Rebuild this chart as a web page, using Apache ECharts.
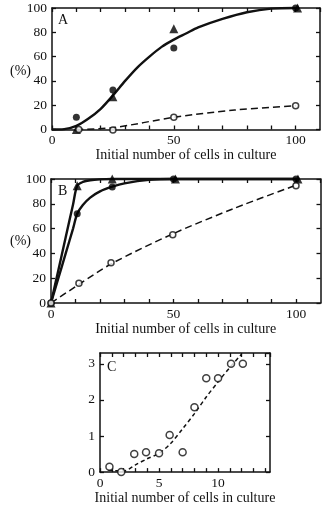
<!DOCTYPE html>
<html><head><meta charset="utf-8">
<script src="https://cdn.jsdelivr.net/npm/echarts@6/dist/echarts.min.js"></script>
<style>html,body{margin:0;padding:0;background:#fff}#c{width:331px;height:506px}</style>
</head><body><div id="c"></div>
<script>
// ---- Panel A data ----
const aFilledCircles = [[10,10],[25,32.5],[50,67],[100,100]];
const aTriangles = [[10,0],[25,27],[50,83],[100.8,100]];
const aOpenCircles = [[11,0],[25,-0.5],[50,10],[100,19.5]];
const aSolidCurve = [[0,0],[5,0.3],[10,3],[15,9],[20,17],[25,28],[30,40],[35,51],[40,60],[45,68],[50,74],[55,79],[60,84],[70,91],[80,96.5],[90,99.5],[100,100]];
const aDashCurve = [[10,0],[25,1.5],[50,10],[75,16],[100,19.5]];
// ---- Panel B data ----
const bFilledCircles = [[0,0],[10.7,72],[25,93.5],[50,100],[100,100]];
const bTriangles = [[0,0],[10.7,94.5],[25,100],[50.8,100],[100.8,100]];
const bOpenCircles = [[0,0],[11.4,16],[24.5,32.5],[49.7,55],[100,94.5]];
const bTriCurve = [[0,0],[3,26.5],[6,53],[9,79.5],[10.7,94.5],[13,97.6],[16,99],[20,99.7],[25,100],[50,100],[100,100]];
const bCircleCurve = [[0,0],[3,20],[6,40],[9,60],[10.7,72],[13,79],[16,85],[20,90],[25,93.8],[30,96.5],[40,99.3],[50,100],[100,100]];
const bDashCurve = [[0,0],[11.4,15],[25,32],[50,56],[75,76.5],[100,95]];
// ---- Panel C data ----
const cOpenCircles = [[0.8,0.15],[1.8,0],[2.9,0.5],[3.9,0.55],[5,0.52],[5.9,1.03],[7,0.55],[8,1.8],[9,2.6],[10,2.6],[11.1,3.0],[12.1,3.0]];
const cDashCurve = [[0.7,0.05],[2,0.03],[3,0.2],[4,0.37],[5,0.52],[6,0.8],[7,1.2],[8,1.62],[9,2.08],[10,2.5],[11,2.9],[12,3.27]];
// ---- tick labels ----
const xTicksAB = [0,50,100];
const yTicksAB = [0,20,40,60,80,100];
const xTicksC = [0,5,10];
const yTicksC = [0,1,2,3];
const xTitle = 'Initial number of cells in culture';

const INK = '#111';
const FONT = 'Liberation Serif';
const lbl = {color: INK, fontFamily: FONT, fontSize: 13.5};
const line = {onZero: false, lineStyle: {color: INK, width: 1.5}};
const tick = {inside: true, length: 4, lineStyle: {color: INK, width: 1.3}};

function xAxes(gi, max, interval, ticks, gap) {
  return [
    {gridIndex: gi, type: 'value', min: 0, max: max, interval: interval, position: 'bottom',
     axisLine: line, axisTick: tick,
     axisLabel: Object.assign({margin: 4, showMaxLabel: false, formatter: v => ticks.includes(v) ? String(v) : ''}, lbl),
     splitLine: {show: false}, name: xTitle, nameLocation: 'middle', nameGap: gap,
     nameTextStyle: {color: INK, fontFamily: FONT, fontSize: 14}},
    {gridIndex: gi, type: 'value', min: 0, max: max, interval: interval, position: 'top',
     axisLine: line, axisTick: tick, axisLabel: {show: false}, splitLine: {show: false}}
  ];
}
function yAxes(gi, max, interval, ticks) {
  return [
    {gridIndex: gi, type: 'value', min: 0, max: max, interval: interval, position: 'left',
     axisLine: line, axisTick: tick,
     axisLabel: Object.assign({margin: 5, showMaxLabel: ticks.includes(max), formatter: v => ticks.includes(v) ? String(v) : ''}, lbl),
     splitLine: {show: false}},
    {gridIndex: gi, type: 'value', min: 0, max: max, interval: interval, position: 'right',
     axisLine: line, axisTick: tick, axisLabel: {show: false}, splitLine: {show: false}}
  ];
}
function curve(xi, yi, data, dashed, w) {
  return {type: 'line', xAxisIndex: xi, yAxisIndex: yi, data: data, smooth: 0.3, symbol: 'none',
    clip: false, silent: true, z: 2,
    lineStyle: {color: INK, width: w, type: dashed ? dashed : 'solid'}};
}
function pts(xi, yi, data, kind, size) {
  const s = {type: 'scatter', xAxisIndex: xi, yAxisIndex: yi, data: data, clip: false, z: 5, symbolSize: size};
  if (kind === 'open') { s.symbol = 'circle'; s.itemStyle = {color: '#fff', borderColor: INK, borderWidth: 1.5}; }
  else if (kind === 'tri') { s.symbol = 'triangle'; s.itemStyle = {color: '#000'}; }
  else { s.symbol = 'circle'; s.itemStyle = {color: '#000'}; }
  return s;
}

const chart = echarts.init(document.getElementById('c'), null, {renderer: 'canvas'});
chart.setOption({
  backgroundColor: '#fff',
  animation: false,
  grid: [
    {left: 52, top: 8, width: 268, height: 121.5},
    {left: 51, top: 179, width: 269.5, height: 124},
    {left: 100, top: 353, width: 170, height: 120.5}
  ],
  xAxis: [].concat(xAxes(0, 110, 10, xTicksAB, 18), xAxes(1, 110, 10, xTicksAB, 17), xAxes(2, 14.4, 1, xTicksC, 17)),
  yAxis: [].concat(yAxes(0, 100, 20, yTicksAB), yAxes(1, 100, 20, yTicksAB), yAxes(2, 3.3, 1, yTicksC)),
  graphic: [
    {type: 'text', left: 10, top: 64, style: {text: '(%)', fill: INK, font: '14px "Liberation Serif"'}},
    {type: 'text', left: 10, top: 234, style: {text: '(%)', fill: INK, font: '14px "Liberation Serif"'}},
    {type: 'text', left: 58, top: 13, style: {text: 'A', fill: INK, font: '14px "Liberation Serif"'}},
    {type: 'text', left: 58, top: 184, style: {text: 'B', fill: INK, font: '14px "Liberation Serif"'}},
    {type: 'text', left: 107, top: 360, style: {text: 'C', fill: INK, font: '14px "Liberation Serif"'}}
  ],
  series: [
    curve(0, 0, aSolidCurve, null, 2.4),
    curve(0, 0, aDashCurve, [7, 4], 1.5),
    pts(0, 0, aFilledCircles, 'filled', 7),
    pts(0, 0, aTriangles, 'tri', 9),
    pts(0, 0, aOpenCircles, 'open', 6),
    curve(2, 2, bTriCurve, null, 2.4),
    curve(2, 2, bCircleCurve, null, 2.4),
    curve(2, 2, bDashCurve, [7, 4], 1.5),
    pts(2, 2, bFilledCircles, 'filled', 7),
    pts(2, 2, bTriangles, 'tri', 9),
    pts(2, 2, bOpenCircles, 'open', 6),
    curve(4, 4, cDashCurve, [4, 3], 1.5),
    pts(4, 4, cOpenCircles, 'open', 7)
  ]
});
</script></body></html>
